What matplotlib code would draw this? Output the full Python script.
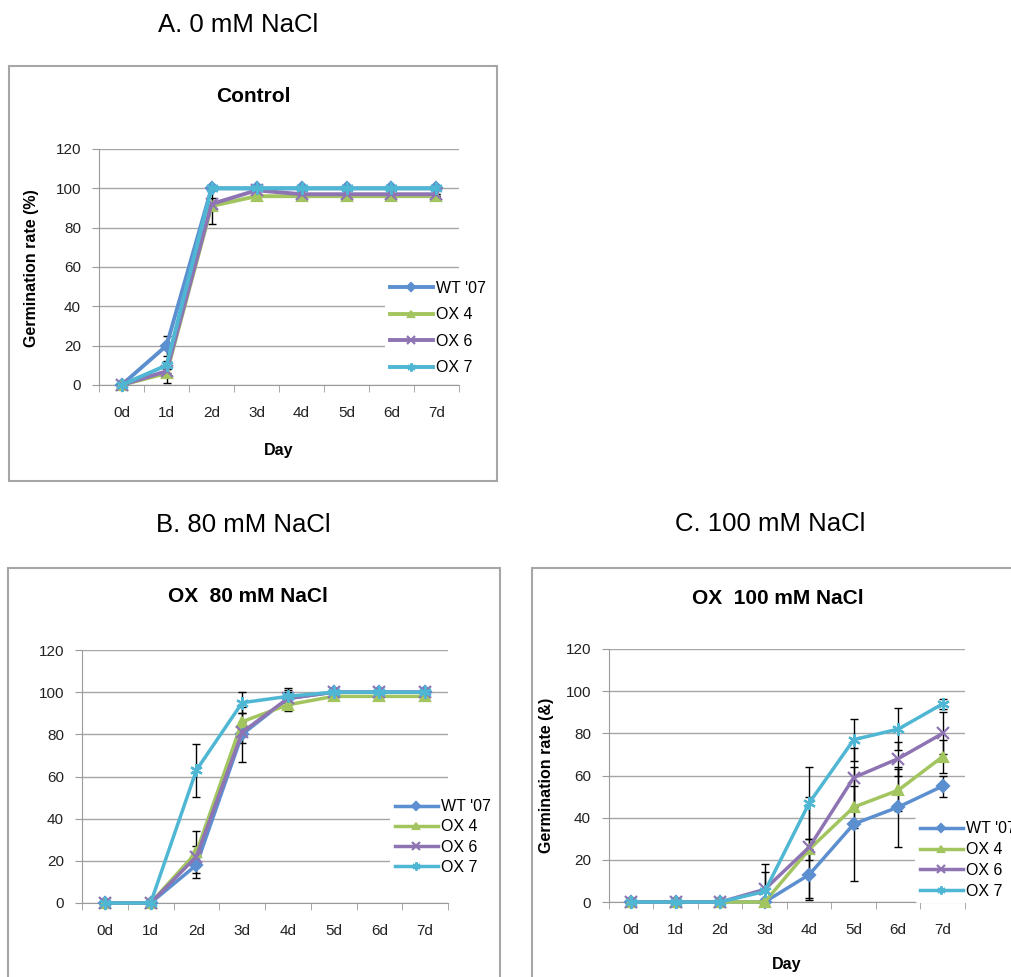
import matplotlib
matplotlib.use("Agg")
import matplotlib.pyplot as plt
import matplotlib.patches as patches
import numpy as np

plt.rcParams['font.family'] = ['Liberation Sans', 'DejaVu Sans']

W, H = 1012, 977

days = ['0d', '1d', '2d', '3d', '4d', '5d', '6d', '7d']
names = ["WT '07", 'OX 4', 'OX 6', 'OX 7']
colors = ['#5B8FD0', '#A3C55F', '#8E74B3', '#4FB7D3']
markers = ['D', '^', 'x', (6, 2, 0)]
msizes = [6.5, 7.5, 8, 9]

# A. control (0 mM NaCl)
wt_0 = [0, 20, 100, 100, 100, 100, 100, 100]
ox4_0 = [0, 6, 91, 96, 96, 96, 96, 96]
ox6_0 = [0, 7, 92, 99, 97, 97, 97, 97]
ox7_0 = [0, 10, 100, 100, 100, 100, 100, 100]
wt_0_err = [0, 5, 0, 0, 0, 0, 0, 0]
ox4_0_err = [0, 5, 9, 0, 0, 0, 0, 0]
ox6_0_err = [0, 1, 3, 0, 0, 0, 0, 0]
ox7_0_err = [0, 2, 0, 0, 0, 0, 0, 0]

# B. 80 mM NaCl
wt_80 = [0, 0, 18, 80, 97, 100, 100, 100]
ox4_80 = [0, 0, 24, 86, 94, 98, 98, 98]
ox6_80 = [0, 0, 22, 81, 97, 100, 100, 100]
ox7_80 = [0, 0, 63, 95, 98, 100, 100, 100]
wt_80_err = [0, 0, 6, 13, 5, 0, 0, 0]
ox4_80_err = [0, 0, 10, 4, 3, 0, 0, 0]
ox6_80_err = [0, 0, 5, 5, 3, 0, 0, 0]
ox7_80_err = [0, 0, 12.5, 5, 3, 0, 0, 0]

# C. 100 mM NaCl
wt_100 = [0, 0, 0, 0, 13, 37, 45, 55]
ox4_100 = [0, 0, 0, 0, 25, 45, 53, 69]
ox6_100 = [0, 0, 0, 6, 26, 59, 68, 80]
ox7_100 = [0, 0, 0, 5, 47, 77, 82, 94]
wt_100_err = [0, 0, 0, 0, 12, 27, 19, 5]
ox4_100_err = [0, 0, 0, 0, 5, 10, 10, 8]
ox6_100_err = [0, 0, 0, 12, 24, 14, 8, 10]
ox7_100_err = [0, 0, 0, 9, 17, 10, 10, 2.5]


def fx(px):
    return px / W


def fy(py):
    return 1 - py / H


fig = plt.figure(figsize=(W / 100, H / 100), dpi=100)


def panel(l, r, t, b, series, errs, lw, leg_x, leg_y, leg_space):
    ax = fig.add_axes([fx(l), fy(b), fx(r) - fx(l), fy(t) - fy(b)])
    x = np.arange(len(days))
    for vals, err, name, c, m, ms in zip(series, errs, names, colors, markers, msizes):
        vals = np.array(vals, dtype=float)
        err = np.array(err, dtype=float)
        low = np.minimum(err, vals)
        ax.errorbar(x, vals, yerr=[low, err], fmt='none', ecolor='black',
                    elinewidth=1, capsize=3, capthick=1, zorder=3)
        ax.plot(x, vals, color=c, marker=m, lw=lw, ms=ms, mew=1.6,
                label=name, clip_on=False, zorder=4)
    ax.set_xlim(-0.5, 7.5)
    ax.set_ylim(0, 120)
    ax.set_yticks(range(0, 121, 20))
    ax.set_xticks(x)
    ax.set_xticklabels(days)
    ax.set_xticks(np.arange(-0.5, 8, 1), minor=True)
    ax.tick_params(axis='x', which='major', length=0, pad=15, labelsize=11,
                   labelcolor='#222222')
    ax.tick_params(axis='x', which='minor', length=5, color='#9a9a9a',
                   direction='out')
    ax.tick_params(axis='y', length=5, color='#9a9a9a', pad=8, labelsize=11,
                   labelcolor='#222222')
    ax.grid(axis='y', color='#a6a6a6', lw=1)
    ax.set_axisbelow(True)
    for s in ['top', 'right']:
        ax.spines[s].set_visible(False)
    for s in ['left', 'bottom']:
        ax.spines[s].set_color('#9a9a9a')
    leg = ax.legend(loc='center left', bbox_to_anchor=(fx(leg_x), fy(leg_y)),
                    bbox_transform=fig.transFigure, frameon=True, fontsize=11.5,
                    handlelength=2.7, handletextpad=0.2, borderpad=0.3,
                    labelspacing=leg_space, markerscale=0.65, borderaxespad=0)
    leg.get_frame().set_facecolor('white')
    leg.get_frame().set_edgecolor('none')
    leg.get_frame().set_alpha(1)
    leg.set_zorder(5)
    return ax


# boxes
for (x0, y0, x1, y1) in [(9, 66, 497, 481), (8, 568, 500, 1000), (532, 568, 1040, 1000)]:
    fig.patches.append(patches.Rectangle((fx(x0), fy(y1)), fx(x1) - fx(x0), fy(y0) - fy(y1),
                                         transform=fig.transFigure, fill=False,
                                         edgecolor='#a6a6a6', lw=1.5))

# panel A
fig.text(fx(238), fy(25), 'A. 0 mM NaCl', fontsize=18.5, ha='center', va='center')
fig.text(fx(253), fy(96), 'Control', fontsize=15, fontweight='bold', ha='center', va='center')
panel(99, 459, 149, 385, [wt_0, ox4_0, ox6_0, ox7_0],
      [wt_0_err, ox4_0_err, ox6_0_err, ox7_0_err], 2.8, 385, 328, 0.72)
fig.text(fx(32), fy(268), 'Germination rate (%)', fontsize=11.5, fontweight='bold',
         rotation=90, ha='center', va='center')
fig.text(fx(279), fy(450), 'Day', fontsize=11.5, fontweight='bold', ha='center', va='center')

# panel B
fig.text(fx(243), fy(525), 'B. 80 mM NaCl', fontsize=18.5, ha='center', va='center')
fig.text(fx(248), fy(597), 'OX  80 mM NaCl', fontsize=15, fontweight='bold', ha='center', va='center')
panel(82, 448, 650, 903, [wt_80, ox4_80, ox6_80, ox7_80],
      [wt_80_err, ox4_80_err, ox6_80_err, ox7_80_err], 2.5, 390, 837, 0.33)

# panel C
fig.text(fx(770), fy(524), 'C. 100 mM NaCl', fontsize=18.5, ha='center', va='center')
fig.text(fx(778), fy(598), 'OX  100 mM NaCl', fontsize=15, fontweight='bold', ha='center', va='center')
panel(609, 965, 649, 902, [wt_100, ox4_100, ox6_100, ox7_100],
      [wt_100_err, ox4_100_err, ox6_100_err, ox7_100_err], 2.5, 915, 860, 0.36)
fig.text(fx(547), fy(775), 'Germination rate (&)', fontsize=11.5, fontweight='bold',
         rotation=90, ha='center', va='center')
fig.text(fx(787), fy(965), 'Day', fontsize=11.5, fontweight='bold', ha='center', va='center')

fig.savefig('out.png', dpi=100)
